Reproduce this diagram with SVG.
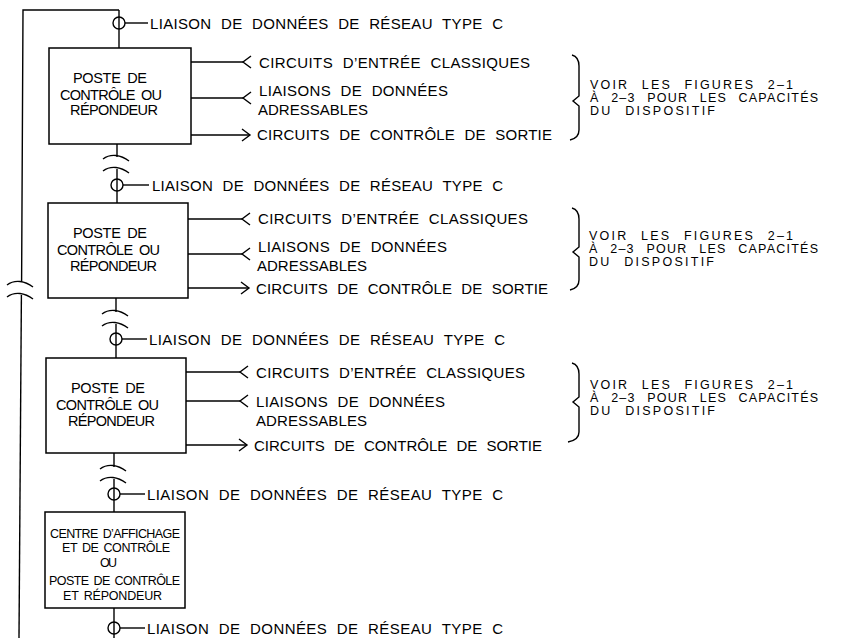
<svg xmlns="http://www.w3.org/2000/svg" width="846" height="638" viewBox="0 0 846 638">
<style>
.ln{fill:none;stroke:#000;stroke-width:1.4}
.bx{fill:#fff;stroke:#000;stroke-width:1.5}
.t{font-family:"Liberation Sans",Arial,sans-serif;font-size:15px;word-spacing:5px;fill:#000}
.b{font-family:"Liberation Sans",Arial,sans-serif;font-size:14.5px;word-spacing:3px;fill:#000}
.s{font-family:"Liberation Sans",Arial,sans-serif;font-size:12.5px;word-spacing:2px;fill:#000}
.v{font-family:"Liberation Sans",Arial,sans-serif;font-size:12.5px;word-spacing:7px;fill:#000}
</style>
<defs>
<marker id="chev" markerUnits="userSpaceOnUse" markerWidth="12" markerHeight="14" viewBox="-10 -7 12 14" refX="0" refY="0" orient="auto">
<path d="M-8,-6 L0,0 L-8,6" fill="none" stroke="#000" stroke-width="1.4"/>
</marker>
</defs>
<rect width="846" height="638" fill="#fff"/>

<g id="connectors">
<path class="ln" d="M119,10 L23,10 L21.6,282"/>
<path class="ln" d="M21.4,295 L19,638"/>
<path class="ln" d="M7,285 C15,279 25,281 33,287"/>
<path class="ln" d="M7,297 C15,291 25,293 33,299"/>
<path class="ln" d="M119,10 L119,48"/>
<path class="ln" d="M117,144 L117,157"/>
<path class="ln" d="M117,169 L117,203"/>
<path class="ln" d="M103,159 C111,153 121,155 129,161"/>
<path class="ln" d="M103,171 C111,165 121,167 129,173"/>
<path class="ln" d="M116,298 L116,312"/>
<path class="ln" d="M116,324 L116,358"/>
<path class="ln" d="M102,314 C110,308 120,310 128,316"/>
<path class="ln" d="M102,326 C110,320 120,322 128,328"/>
<path class="ln" d="M114,453 L114,467"/>
<path class="ln" d="M114,479 L114,512"/>
<path class="ln" d="M100,469 C108,463 118,465 126,471"/>
<path class="ln" d="M100,481 C108,475 118,477 126,483"/>
<path class="ln" d="M114,608 L114,638"/>
<circle class="ln" cx="119" cy="23" r="6"/>
<path class="ln" d="M125,23 L148,23"/>
<circle class="ln" cx="117" cy="185" r="6"/>
<path class="ln" d="M123,185 L149,185"/>
<circle class="ln" cx="116" cy="339" r="6"/>
<path class="ln" d="M122,339 L147,339"/>
<circle class="ln" cx="114" cy="494" r="6"/>
<path class="ln" d="M120,494 L145,494"/>
<circle class="ln" cx="114" cy="628" r="6"/>
<path class="ln" d="M120,628 L145,628"/>
<path class="ln" d="M243,62 L191,62" marker-start="url(#chev)"/>
<path class="ln" d="M243,98 L191,98" marker-start="url(#chev)"/>
<path class="ln" d="M191,135 L250,135" marker-end="url(#chev)"/>
<path class="ln" d="M242,219 L188,219" marker-start="url(#chev)"/>
<path class="ln" d="M242,254 L188,254" marker-start="url(#chev)"/>
<path class="ln" d="M188,288 L249,288" marker-end="url(#chev)"/>
<path class="ln" d="M240,372 L186,372" marker-start="url(#chev)"/>
<path class="ln" d="M240,401 L186,401" marker-start="url(#chev)"/>
<path class="ln" d="M186,445 L247,445" marker-end="url(#chev)"/>
<path class="ln" d="M572,55 Q579,57 579,66 L579,96 L573,101 L579,106 L579,130 Q579,138 570,140"/>
<path class="ln" d="M572,208 Q579,210 579,219 L579,247 L573,252 L579,257 L579,280 Q579,288 570,290"/>
<path class="ln" d="M572,363 Q579,365 579,374 L579,397 L573,402 L579,407 L579,432 Q579,440 568,442"/>
</g>

<g id="net-labels">
<text class="t" x="150" y="29" textLength="353" lengthAdjust="spacing">LIAISON DE DONNÉES DE RÉSEAU TYPE C</text>
<text class="t" x="152" y="191" textLength="351" lengthAdjust="spacing">LIAISON DE DONNÉES DE RÉSEAU TYPE C</text>
<text class="t" x="149" y="345" textLength="356" lengthAdjust="spacing">LIAISON DE DONNÉES DE RÉSEAU TYPE C</text>
<text class="t" x="147" y="500" textLength="356" lengthAdjust="spacing">LIAISON DE DONNÉES DE RÉSEAU TYPE C</text>
<text class="t" x="147" y="634" textLength="356" lengthAdjust="spacing">LIAISON DE DONNÉES DE RÉSEAU TYPE C</text>
</g>

<g id="node1">
<rect class="bx" x="49" y="48" width="142" height="96"/>
<text class="b" x="73" y="83" textLength="74" lengthAdjust="spacing">POSTE DE</text>
<text class="b" x="60" y="100" textLength="102" lengthAdjust="spacing">CONTRÔLE OU</text>
<text class="b" x="70" y="115" textLength="88" lengthAdjust="spacing">RÉPONDEUR</text>
</g>
<g id="node1-io">
<text class="t" x="259" y="68" textLength="271" lengthAdjust="spacing">CIRCUITS D’ENTRÉE CLASSIQUES</text>
<text class="t" x="259" y="96" textLength="189" lengthAdjust="spacing">LIAISONS DE DONNÉES</text>
<text class="t" x="258" y="115" textLength="110" lengthAdjust="spacing">ADRESSABLES</text>
<text class="t" x="257" y="140" textLength="295" lengthAdjust="spacing">CIRCUITS DE CONTRÔLE DE SORTIE</text>
<text class="v" x="590" y="89" textLength="203" lengthAdjust="spacing">VOIR LES FIGURES 2–1</text>
<text class="v" x="590" y="102" textLength="228" lengthAdjust="spacing">À 2–3 POUR LES CAPACITÉS</text>
<text class="v" x="590" y="115" textLength="125" lengthAdjust="spacing">DU DISPOSITIF</text>
</g>

<g id="node2">
<rect class="bx" x="48" y="203" width="140" height="95"/>
<text class="b" x="73" y="238" textLength="74" lengthAdjust="spacing">POSTE DE</text>
<text class="b" x="57" y="255" textLength="103" lengthAdjust="spacing">CONTRÔLE OU</text>
<text class="b" x="70" y="271" textLength="87" lengthAdjust="spacing">RÉPONDEUR</text>
</g>
<g id="node2-io">
<text class="t" x="258" y="224" textLength="270" lengthAdjust="spacing">CIRCUITS D’ENTRÉE CLASSIQUES</text>
<text class="t" x="258" y="252" textLength="189" lengthAdjust="spacing">LIAISONS DE DONNÉES</text>
<text class="t" x="257" y="271" textLength="110" lengthAdjust="spacing">ADRESSABLES</text>
<text class="t" x="256" y="294" textLength="292" lengthAdjust="spacing">CIRCUITS DE CONTRÔLE DE SORTIE</text>
<text class="v" x="589" y="240" textLength="204" lengthAdjust="spacing">VOIR LES FIGURES 2–1</text>
<text class="v" x="589" y="253" textLength="229" lengthAdjust="spacing">À 2–3 POUR LES CAPACITÉS</text>
<text class="v" x="589" y="266" textLength="125" lengthAdjust="spacing">DU DISPOSITIF</text>
</g>

<g id="node3">
<rect class="bx" x="46" y="358" width="140" height="95"/>
<text class="b" x="71" y="393" textLength="74" lengthAdjust="spacing">POSTE DE</text>
<text class="b" x="56" y="410" textLength="103" lengthAdjust="spacing">CONTRÔLE OU</text>
<text class="b" x="68" y="426" textLength="87" lengthAdjust="spacing">RÉPONDEUR</text>
</g>
<g id="node3-io">
<text class="t" x="256" y="378" textLength="269" lengthAdjust="spacing">CIRCUITS D’ENTRÉE CLASSIQUES</text>
<text class="t" x="256" y="407" textLength="189" lengthAdjust="spacing">LIAISONS DE DONNÉES</text>
<text class="t" x="256" y="426" textLength="111" lengthAdjust="spacing">ADRESSABLES</text>
<text class="t" x="254" y="451" textLength="288" lengthAdjust="spacing">CIRCUITS DE CONTRÔLE DE SORTIE</text>
<text class="v" x="590" y="389" textLength="203" lengthAdjust="spacing">VOIR LES FIGURES 2–1</text>
<text class="v" x="590" y="402" textLength="228" lengthAdjust="spacing">À 2–3 POUR LES CAPACITÉS</text>
<text class="v" x="590" y="415" textLength="125" lengthAdjust="spacing">DU DISPOSITIF</text>
</g>

<g id="node4">
<rect class="bx" x="45" y="512" width="140" height="96"/>
<text class="s" x="50" y="538" textLength="130" lengthAdjust="spacing">CENTRE D’AFFICHAGE</text>
<text class="s" x="62" y="552" textLength="108" lengthAdjust="spacing">ET DE CONTRÔLE</text>
<text class="s" x="100" y="567" textLength="17" lengthAdjust="spacing">OU</text>
<text class="s" x="49" y="585" textLength="131" lengthAdjust="spacing">POSTE DE CONTRÔLE</text>
<text class="s" x="63" y="600" textLength="99" lengthAdjust="spacing">ET RÉPONDEUR</text>
</g>
</svg>
